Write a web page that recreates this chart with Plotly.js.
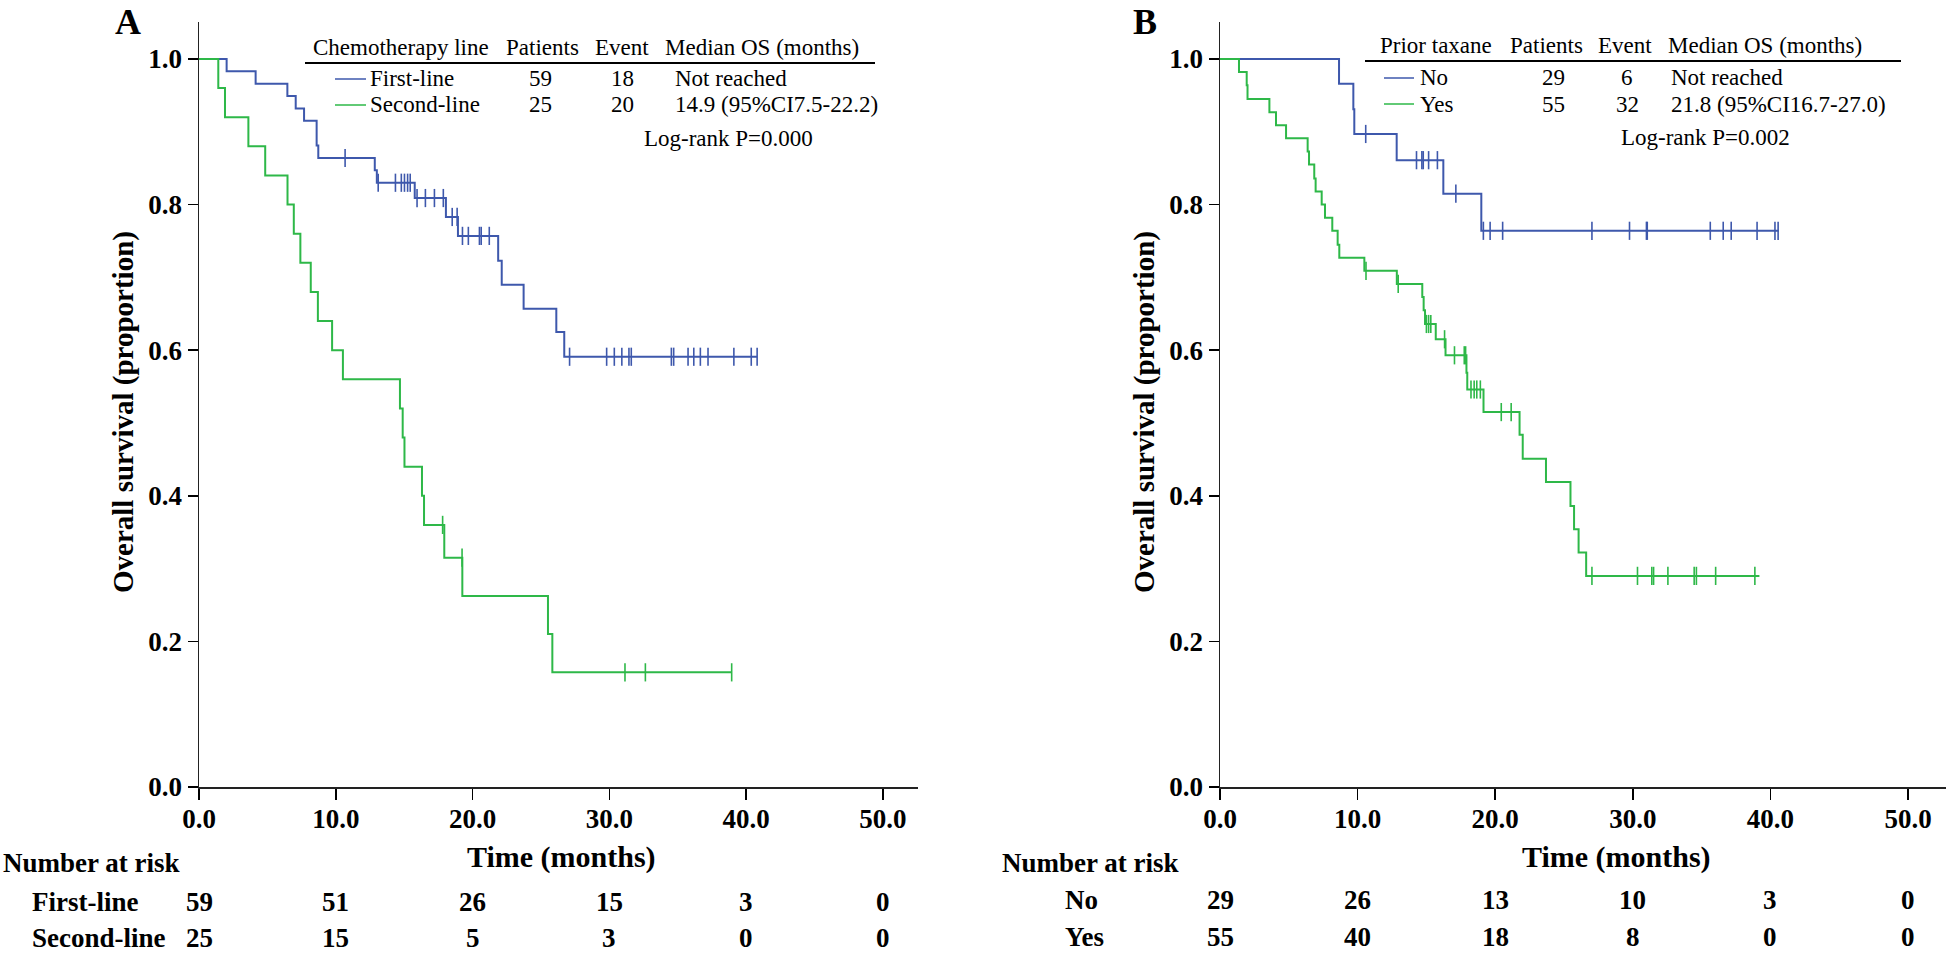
<!DOCTYPE html>
<html>
<head>
<meta charset="utf-8">
<script src="https://cdn.plot.ly/plotly-3.0.1.min.js"></script>
<style>html,body{margin:0;padding:0;background:#fff;}#chart{width:1946px;height:954px;}</style>
</head>
<body>
<div id="chart"></div>
<script>
// ---------- DATA ----------
// Panel A: chemotherapy line
const aFirstTime = [0, 2.02, 4.14, 6.46, 7.07, 7.68, 8.6, 8.72, 12.85, 13.0, 15.77, 18.05, 18.93, 21.87, 22.13, 23.73, 26.12, 26.70, 40.8];
const aFirstSurv = [1, 0.983, 0.966, 0.949, 0.932, 0.915, 0.881, 0.864, 0.847, 0.830, 0.809, 0.783, 0.757, 0.723, 0.690, 0.657, 0.625, 0.591, 0.591];
const aFirstCens = [10.68, 13.1, 14.36, 14.79, 15.02, 15.25, 15.44, 15.94, 16.55, 17.21, 17.86, 18.51, 18.87, 19.26, 19.69, 20.5, 20.63, 21.22, 27.09, 29.8, 30.36, 30.91, 31.43, 31.6, 34.53, 34.70, 35.75, 36.17, 36.65, 37.21, 39.1, 40.37, 40.8];

const aSecondTime = [0, 1.41, 1.90, 3.61, 4.84, 6.47, 6.93, 7.41, 8.17, 8.69, 9.73, 10.52, 14.69, 14.89, 15.02, 16.3, 16.45, 17.93, 19.25, 25.51, 25.83, 38.94];
const aSecondSurv = [1, 0.96, 0.92, 0.88, 0.84, 0.80, 0.76, 0.72, 0.68, 0.64, 0.60, 0.56, 0.52, 0.48, 0.44, 0.40, 0.36, 0.315, 0.2625, 0.21, 0.1575, 0.1575];
const aSecondCens = [17.81, 19.23, 31.14, 32.63, 38.94];

// Panel B: prior taxane
const bNoTime = [0, 8.65, 9.69, 9.76, 12.84, 16.23, 18.99, 40.6];
const bNoSurv = [1, 0.966, 0.931, 0.897, 0.861, 0.815, 0.764, 0.764];
const bNoCens = [10.59, 14.28, 14.67, 14.77, 15.16, 15.8, 17.14, 19.14, 19.63, 20.54, 27.03, 29.76, 30.99, 31.05, 35.63, 36.57, 37.15, 39.03, 40.33, 40.56];

const bYesTime = [0, 1.38, 1.94, 2.0, 3.59, 4.07, 4.80, 6.37, 6.47, 6.85, 6.95, 7.39, 7.63, 8.16, 8.55, 8.67, 10.49, 12.85, 14.7, 14.8, 14.9, 15.68, 16.39, 17.91, 17.97, 19.15, 21.77, 22.0, 23.69, 25.47, 25.73, 26.06, 26.61, 39.2];
const bYesSurv = [1, 0.982, 0.964, 0.945, 0.927, 0.909, 0.891, 0.873, 0.855, 0.836, 0.818, 0.800, 0.782, 0.764, 0.745, 0.727, 0.709, 0.691, 0.673, 0.655, 0.636, 0.615, 0.593, 0.569, 0.546, 0.515, 0.484, 0.451, 0.419, 0.386, 0.354, 0.322, 0.290, 0.290];
const bYesCens = [10.61, 12.95, 15.0, 15.16, 15.32, 16.32, 17.04, 17.75, 17.85, 18.24, 18.47, 18.66, 18.92, 20.44, 21.16, 27.03, 30.34, 31.38, 31.51, 32.55, 34.46, 34.62, 36.02, 38.87];

// Number at risk
const riskTimes = [0, 10, 20, 30, 40, 50];
const riskAFirst = [59, 51, 26, 15, 3, 0];
const riskASecond = [25, 15, 5, 3, 0, 0];
const riskBNo = [29, 26, 13, 10, 3, 0];
const riskBYes = [55, 40, 18, 8, 0, 0];

// Legend tables
const tableAHeader = ["Chemotherapy line", "Patients", "Event", "Median OS (months)"];
const tableARows = [["First-line", "59", "18", "Not reached"], ["Second-line", "25", "20", "14.9 (95%CI7.5-22.2)"]];
const tableAP = "Log-rank P=0.000";
const tableBHeader = ["Prior taxane", "Patients", "Event", "Median OS (months)"];
const tableBRows = [["No", "29", "6", "Not reached"], ["Yes", "55", "32", "21.8 (95%CI16.7-27.0)"]];
const tableBP = "Log-rank P=0.002";

// ---------- STYLE ----------
const W = 1946, H = 954;
const BLUE = '#3E58AC', GREEN = '#2EB848';
const SERIF = 'Liberation Serif, Times New Roman, serif';
const px = v => v / W;
const py = v => 1 - v / H;

function stepAt(times, surv, t) {
  let s = surv[0];
  for (let i = 0; i < times.length; i++) { if (times[i] <= t) s = surv[i]; }
  return s;
}
function curve(times, surv, color, xa, ya) {
  return {x: times, y: surv, type: 'scatter', mode: 'lines', line: {shape: 'hv', color: color, width: 2},
          xaxis: xa, yaxis: ya, hoverinfo: 'skip', showlegend: false};
}
function cens(ct, times, surv, color, xa, ya) {
  return {x: ct, y: ct.map(t => stepAt(times, surv, t)), type: 'scatter', mode: 'markers',
          marker: {symbol: 'line-ns', size: 13, line: {color: color, width: 1.6}, color: color},
          xaxis: xa, yaxis: ya, hoverinfo: 'skip', showlegend: false};
}

const traces = [
  curve(aFirstTime, aFirstSurv, BLUE, 'x', 'y'),
  cens(aFirstCens, aFirstTime, aFirstSurv, BLUE, 'x', 'y'),
  curve(aSecondTime, aSecondSurv, GREEN, 'x', 'y'),
  cens(aSecondCens, aSecondTime, aSecondSurv, GREEN, 'x', 'y'),
  curve(bNoTime, bNoSurv, BLUE, 'x2', 'y2'),
  cens(bNoCens, bNoTime, bNoSurv, BLUE, 'x2', 'y2'),
  curve(bYesTime, bYesSurv, GREEN, 'x2', 'y2'),
  cens(bYesCens, bYesTime, bYesSurv, GREEN, 'x2', 'y2')
];

const tickFont = {family: SERIF, size: 27, color: '#000', weight: 'bold'};
function xAxis(domain, maxv) {
  return {domain: domain, range: [0, maxv], tickvals: riskTimes, tickformat: '.1f', ticks: 'outside', ticklen: 11,
          tickwidth: 1.5, tickcolor: '#000', showline: true, linecolor: '#222', linewidth: 1.5, zeroline: false,
          showgrid: false, tickfont: tickFont, fixedrange: true, ticklabelstandoff: -4};
}
function yAxis(anchor) {
  return {domain: [py(787), py(22)], range: [0, 1.0508], tickvals: [0, 0.2, 0.4, 0.6, 0.8, 1.0], tickformat: '.1f',
          ticks: 'outside', ticklen: 10, tickwidth: 1.5, tickcolor: '#000', showline: true, linecolor: '#222',
          linewidth: 1.5, zeroline: false, showgrid: false, tickfont: tickFont, anchor: anchor, fixedrange: true};
}

const ann = [];
function txt(text, x, y, opts) {
  const o = Object.assign({size: 23, bold: false, xanchor: 'center', angle: 0}, opts || {});
  ann.push({text: text, xref: 'paper', yref: 'paper', x: px(x), y: py(y), xanchor: o.xanchor, yanchor: 'middle',
            showarrow: false, textangle: o.angle, borderpad: 0,
            font: {family: SERIF, size: o.size, color: '#000', weight: o.bold ? 'bold' : 'normal'}});
}
const shapes = [];
function hline(x0, x1, y, color, w) {
  shapes.push({type: 'line', xref: 'paper', yref: 'paper', x0: px(x0), x1: px(x1), y0: py(y), y1: py(y),
               line: {color: color, width: w}});
}

// Panel letters
txt('A', 128, 22, {size: 36, bold: true});
txt('B', 1145, 22, {size: 36, bold: true});

// Table A
const aCols = [401, 542, 622, 762];
tableAHeader.forEach((h, i) => txt(h, aCols[i], 48));
hline(305, 875, 63, '#000', 2);
const aRowY = [79, 105];
const aColors = [BLUE, GREEN];
tableARows.forEach((r, k) => {
  hline(335, 366, aRowY[k], aColors[k], 1.5);
  txt(r[0], 369, aRowY[k], {xanchor: 'left'});
  txt(r[1], 540, aRowY[k]);
  txt(r[2], 622, aRowY[k]);
  txt(r[3], 674, aRowY[k], {xanchor: 'left'});
});
txt(tableAP, 728, 139);

// Table B
const bCols = [1436, 1546, 1625, 1765];
tableBHeader.forEach((h, i) => txt(h, bCols[i], 46));
hline(1365, 1901, 61, '#000', 2);
const bRowY = [78, 104];
tableBRows.forEach((r, k) => {
  hline(1384, 1414, bRowY[k], aColors[k], 1.5);
  txt(r[0], 1419, bRowY[k], {xanchor: 'left'});
  txt(r[1], 1553, bRowY[k]);
  txt(r[2], 1627, bRowY[k]);
  txt(r[3], 1670, bRowY[k], {xanchor: 'left'});
});
txt(tableBP, 1705, 138);

// Axis titles
txt('Overall survival (proportion)', 123, 412, {size: 29, bold: true, angle: -90});
txt('Overall survival (proportion)', 1144, 412, {size: 29, bold: true, angle: -90});
txt('Time (months)', 561, 857, {size: 30, bold: true});
txt('Time (months)', 1616, 857, {size: 30, bold: true});

// Number at risk
txt('Number at risk', 2, 863, {size: 27, bold: true, xanchor: 'left'});
txt('First-line', 31, 902, {size: 27, bold: true, xanchor: 'left'});
txt('Second-line', 31, 938, {size: 27, bold: true, xanchor: 'left'});
txt('Number at risk', 1001, 863, {size: 27, bold: true, xanchor: 'left'});
txt('No', 1064, 900, {size: 27, bold: true, xanchor: 'left'});
txt('Yes', 1064, 937, {size: 27, bold: true, xanchor: 'left'});
function riskRow(vals, xref, y) {
  vals.forEach((v, i) => ann.push({text: String(v), xref: xref, yref: 'paper', x: riskTimes[i], y: py(y),
    xanchor: 'center', yanchor: 'middle', showarrow: false, borderpad: 0,
    font: {family: SERIF, size: 27, color: '#000', weight: 'bold'}}));
}
riskRow(riskAFirst, 'x', 902);
riskRow(riskASecond, 'x', 938);
riskRow(riskBNo, 'x2', 900);
riskRow(riskBYes, 'x2', 937);

const layout = {
  width: W, height: H, margin: {l: 0, r: 0, t: 0, b: 0}, paper_bgcolor: '#fff', plot_bgcolor: '#fff',
  showlegend: false,
  xaxis: Object.assign(xAxis([px(199), px(918)], 52.56), {anchor: 'y'}),
  yaxis: yAxis('x'),
  xaxis2: Object.assign(xAxis([px(1220), 1], 52.76), {anchor: 'y2'}),
  yaxis2: yAxis('x2'),
  annotations: ann, shapes: shapes
};

Plotly.newPlot('chart', traces, layout, {staticPlot: true, displayModeBar: false});
</script>
</body>
</html>
